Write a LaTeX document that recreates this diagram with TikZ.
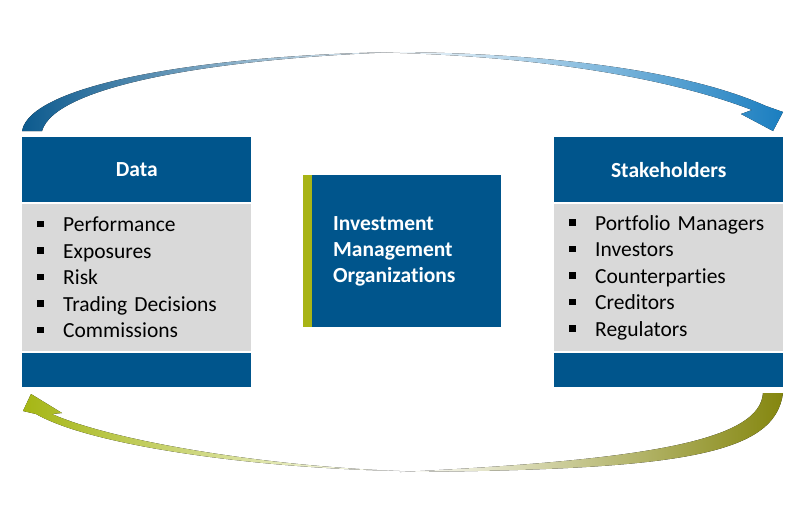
\documentclass[tikz,border=0pt]{standalone}
\usepackage{fontspec}
\setmainfont{Carlito}[Ligatures=NoCommon]
\usetikzlibrary{positioning}
\definecolor{boxblue}{RGB}{0,85,140}
\definecolor{boxgray}{RGB}{217,217,217}
\definecolor{bargreen}{RGB}{168,180,22}
\definecolor{arcdark}{RGB}{12,90,142}
\definecolor{arcblue}{RGB}{26,126,192}
\definecolor{arcgreen}{RGB}{165,182,20}
\definecolor{arcolive}{RGB}{132,134,14}
\newcommand\sqb{\makebox[26pt][l]{\rule[4.5pt]{6.5pt}{6.5pt}}}

\begin{document}
\begin{tikzpicture}[x=1pt, y=-1pt,
	   head/.style={fill=boxblue, minimum width=229pt, minimum height=65pt, inner sep=0pt, text=white, font=\fontsize{21.5}{25}\selectfont\bfseries},
	   body/.style={fill=boxgray, minimum width=229pt, minimum height=147pt, inner xsep=15pt, text width=199pt, align=left, font=\fontsize{21.5}{26.5}\selectfont},
	   foot/.style={fill=boxblue, minimum width=229pt, minimum height=34pt, inner sep=0pt},
	   org/.style={fill=boxblue, minimum width=189pt, minimum height=152pt, inner xsep=21pt, text width=147pt, align=left, text=white, font=\fontsize{21.5}{26}\selectfont\bfseries}]
	  \useasboundingbox (0,0) rectangle (800,523);
	  \node[head, anchor=north west] (dataHead) at (22,137) {Data};
	  \node[body, below=1.5pt of dataHead] (dataBody) {\sqb Performance\\ \sqb Exposures\\ \sqb Risk\\ \sqb Trading Decisions\\ \sqb Commissions};
	  \node[foot, below=1.5pt of dataBody] (dataFoot) {};
	  \node[head, anchor=north west] (stakeHead) at (554,137) {Stakeholders};
	  \node[body, below=1.5pt of stakeHead] (stakeBody) {\sqb Portfolio Managers\\ \sqb Investors\\ \sqb Counterparties\\ \sqb Creditors\\ \sqb Regulators};
	  \node[foot, below=1.5pt of stakeBody] (stakeFoot) {};
	  \node[org, anchor=north west] (orgBox) at (312,175) {Investment\\Management\\Organizations};
	  \node[fill=bargreen, minimum width=9pt, minimum height=152pt, inner sep=0pt, left=0pt of orgBox] (orgBar) {};
	  \fill[left color=arcdark, middle color=arcdark!90, right color=arcdark!8] (22,131) .. controls (30,85) and (200,55) .. (400,52) .. controls (220,58) and (55,85) .. (42,131) -- cycle;
	  \fill[left color=arcblue!5, middle color=arcblue!75, right color=arcblue] (400,52) .. controls (560,54) and (690,72) .. (766,106) -- (783,112) -- (773,131) -- (741,114) -- (752,110) .. controls (680,82) and (560,58) .. (400,53) -- cycle;
	  \fill[left color=white, middle color=arcolive!80, right color=arcolive] (783,393) .. controls (775,455) and (680,470) .. (400,472) .. controls (650,460) and (760,440) .. (763,393) -- cycle;
	  \fill[left color=arcgreen, middle color=arcgreen!90, right color=white] (31,394) -- (62,413) -- (52,414) .. controls (110,440) and (260,466) .. (400,471) .. controls (250,468) and (90,445) .. (36,414) -- (23,411) -- cycle;
	\end{tikzpicture}
\end{document}
